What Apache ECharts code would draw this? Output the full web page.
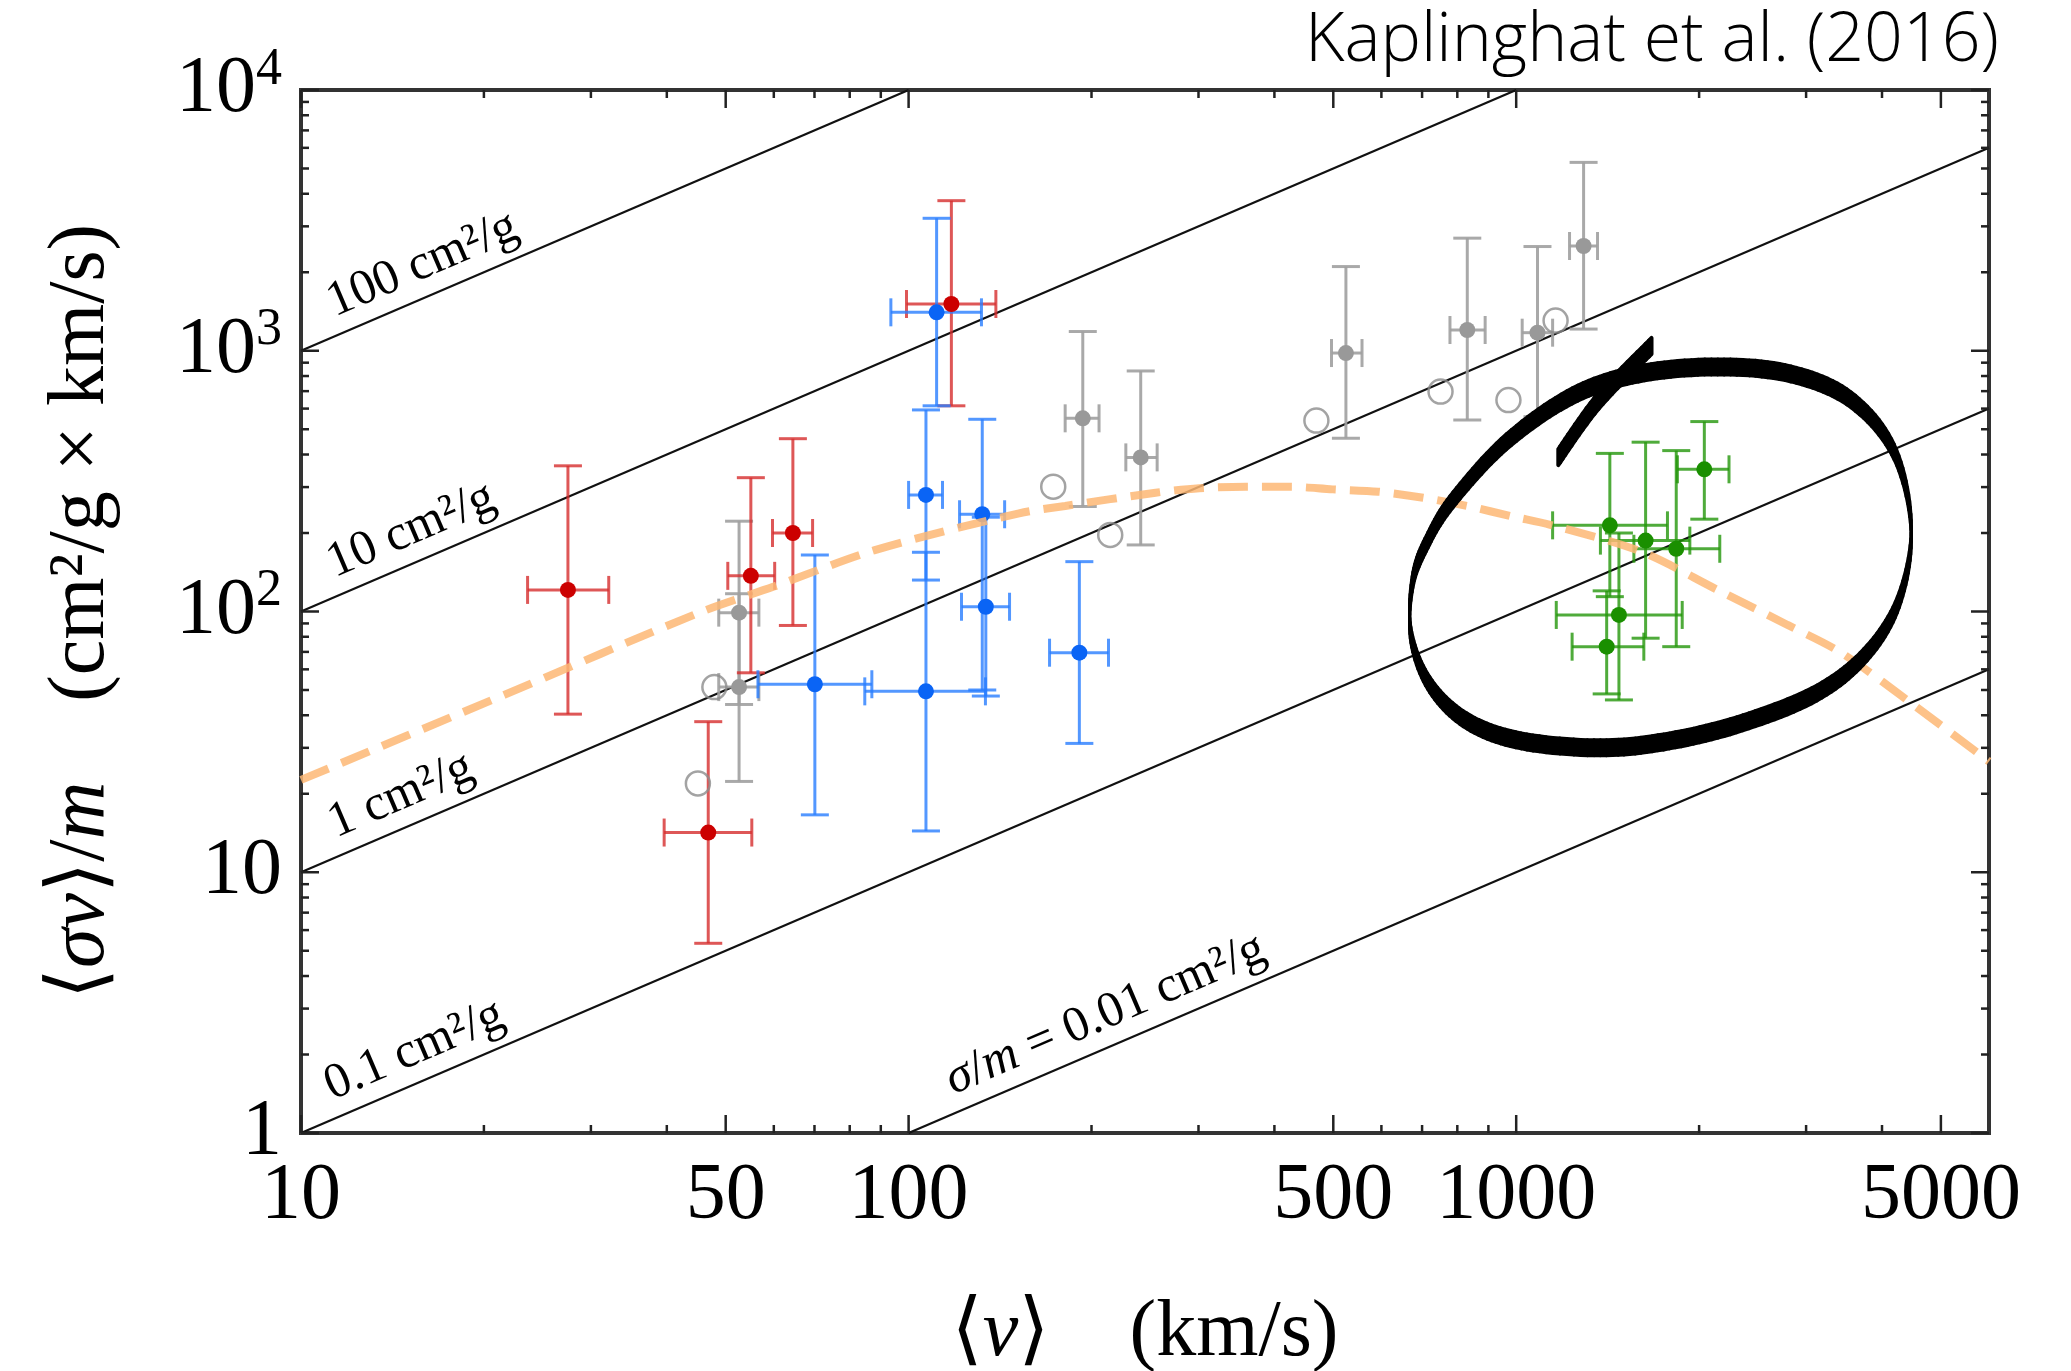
<!DOCTYPE html>
<html>
<head>
<meta charset="utf-8">
<title>Dark matter self-interaction: ⟨σv⟩/m versus ⟨v⟩</title>
<script src="https://cdn.jsdelivr.net/npm/echarts@6/dist/echarts.min.js"></script>
<style>
  html, body { margin: 0; padding: 0; background: #ffffff; }
  #chart { width: 2071px; height: 1371px; }
</style>
</head>
<body>
<div id="chart"></div>
<script>
// ---------- axis ranges ----------
const X_MIN = 10, X_MAX = 6000;
const Y_MIN = 1, Y_MAX = 10000;

// ---------- ticks ----------
const xTickLabels = [10, 50, 100, 500, 1000, 5000];
const xMinorTicks = [20, 30, 40, 60, 70, 80, 90, 200, 300, 400, 600, 700, 800, 900, 2000, 3000, 4000];
const yMajorTicks = [1, 10, 100, 1000, 10000];
const yMinorTicks = [2, 3, 4, 5, 6, 7, 8, 9, 20, 30, 40, 50, 60, 70, 80, 90,
  200, 300, 400, 500, 600, 700, 800, 900, 2000, 3000, 4000, 5000, 6000, 7000, 8000, 9000];

// ---------- lines of constant sigma/m ----------
const sigmaLabels = ['100 cm²/g', '10 cm²/g', '1 cm²/g', '0.1 cm²/g', '{i|σ}/{i|m} = 0.01 cm²/g'];
const sigmaLineFrom = [[10, 1000], [10, 100], [10, 10], [10, 1], [100, 1]];
const sigmaLineTo = [[100, 10000], [1000, 10000], [6000, 6000], [6000, 600], [6000, 60]];
const sigmaLabelAt = [[16.6, 1660], [15.9, 159], [15.3, 15.3], [16.1, 1.61], [221, 2.21]];

// ---------- dwarfs (red) ----------
const redV = [27.5, 46.8, 55, 64.5, 117.6];
const redY = [121, 14.2, 137, 200, 1511];
const redVLo = [23.6, 39.6, 50.4, 59.7, 99.2];
const redVHi = [32.1, 55.2, 60.2, 69.5, 139.2];
const redYLo = [40.4, 5.34, 58.2, 88.4, 615];
const redYHi = [362, 37.8, 326, 460, 3763];

// ---------- low surface brightness galaxies (blue) ----------
const blueV = [70.1, 106.8, 106.8, 111.2, 132.2, 134, 191];
const blueY = [52.6, 49.4, 280, 1404, 236, 104.3, 69.5];
const blueVLo = [56.5, 84.7, 100, 93.5, 121.3, 122.2, 170.6];
const blueVHi = [87, 133.8, 113.7, 131.8, 143.9, 146.6, 213.3];
const blueYLo = [16.6, 14.4, 132, 615, 50, 47.4, 31.2];
const blueYHi = [164.7, 168.7, 593, 3221, 546, 230, 155.3];

// ---------- gray measurements with error bars ----------
const grayV = [52.6, 52.6, 193.5, 241, 524.5, 830.8, 1084, 1291];
const grayY = [99, 51.3, 550.6, 390, 980, 1201, 1173, 2522];
const grayVLo = [48.7, 48.7, 181, 227.8, 496.6, 778, 1023, 1224];
const grayVHi = [56.7, 56.7, 205.8, 256.5, 557.5, 889, 1148, 1361];
const grayYLo = [44, 22.3, 252.8, 180, 461.8, 542.5, 558.6, 1211];
const grayYHi = [222, 117, 1185, 836.5, 2103, 2703, 2510, 5277];

// ---------- open circles ----------
const openV = [45, 47.9, 173, 214.7, 469, 750.7, 971, 1161];
const openY = [21.9, 51.3, 301, 196.6, 540, 697.6, 647, 1305];

// ---------- clusters (green) ----------
const greenV = [2040, 1426, 1633, 1834, 1476, 1409];
const greenY = [351, 214, 187, 174, 97, 73.3];
const greenVLo = [1842, 1148, 1376, 1562, 1164, 1236];
const greenVHi = [2240, 1774, 1931, 2163, 1876, 1622];
const greenYLo = [226, 114, 79, 73.3, 45.8, 48.3];
const greenYHi = [535, 404, 446, 414, 200, 120];

// ---------- model curve (dashed orange) ----------
const curveV = [10, 21.6, 45, 60, 88, 152, 181, 255, 301, 359, 424, 499, 593, 703, 829, 990, 1138, 1602, 2145, 2797, 3436, 4546, 6000];
const curveY = [22.6, 47.9, 98.5, 124.6, 172, 238, 254, 285.5, 297, 301, 301, 294, 288, 273, 254, 231, 215, 170, 121, 88.8, 69.2, 43.2, 26.6];

// ---------- hand-drawn closed loop around the clusters (clockwise from the top) ----------
const loopV = [2146, 2832, 3558, 4189, 4469, 4270, 3780, 3126, 2359, 1788, 1376, 1019,
  830, 721, 671, 676, 716, 787, 963, 1237, 1590];
const loopY = [867, 815, 648, 409, 209, 111, 69.3, 48.7, 37.4, 31.9, 30, 31.9,
  38, 52.3, 81.2, 132, 188, 268, 447, 671, 815];

// ---------- short stroke inside the loop ----------
const tailV = [1173, 1366, 1670];
const tailY = [391, 642, 1043];

const SERIF = "'Liberation Serif', 'Times New Roman', 'DejaVu Serif', serif";

function rows() {
  const cols = Array.prototype.slice.call(arguments);
  return cols[0].map((_, i) => cols.map(c => c[i]));
}

function errorBarRenderer(color) {
  return function (params, api) {
    const v = api.value(0), y = api.value(1);
    const c = api.coord([v, y]);
    const lo = api.coord([v, api.value(4)]);
    const hi = api.coord([v, api.value(5)]);
    const le = api.coord([api.value(2), y]);
    const ri = api.coord([api.value(3), y]);
    const st = { stroke: color, lineWidth: 3 };
    const cap = 14;
    const seg = (x1, y1, x2, y2) => ({ type: 'line', shape: { x1: x1, y1: y1, x2: x2, y2: y2 }, style: st });
    return {
      type: 'group',
      children: [
        seg(c[0], lo[1], c[0], hi[1]),
        seg(c[0] - cap, lo[1], c[0] + cap, lo[1]),
        seg(c[0] - cap, hi[1], c[0] + cap, hi[1]),
        seg(le[0], c[1], ri[0], c[1]),
        seg(le[0], c[1] - cap, le[0], c[1] + cap),
        seg(ri[0], c[1] - cap, ri[0], c[1] + cap)
      ]
    };
  };
}

function errorSeries(name, color, V, Y, VLo, VHi, YLo, YHi) {
  return {
    name: name + ' errors',
    type: 'custom',
    coordinateSystem: 'cartesian2d',
    renderItem: errorBarRenderer(color),
    data: rows(V, Y, VLo, VHi, YLo, YHi),
    encode: { x: 0, y: 1 },
    clip: false,
    silent: true,
    z: 3
  };
}

function markerSeries(name, color, V, Y) {
  return {
    name: name,
    type: 'scatter',
    data: rows(V, Y),
    symbol: 'circle',
    symbolSize: 16,
    itemStyle: { color: color, opacity: 1 },
    silent: true,
    z: 4
  };
}

// Catmull-Rom interpolation between pixel points p1 and p2
function catmull(p0, p1, p2, p3, t) {
  const t2 = t * t, t3 = t2 * t;
  const f = (a, b, c, d) => 0.5 * (2 * b + (-a + c) * t + (2 * a - 5 * b + 4 * c - d) * t2 + (-a + 3 * b - 3 * c + d) * t3);
  return [f(p0[0], p1[0], p2[0], p3[0]), f(p0[1], p1[1], p2[1], p3[1])];
}

// brush stroke with a vertical nib: thick where the pen moves sideways, thin where it moves up/down
function brushRenderer(V, Y, closed, nib, minWidth) {
  return function (params, api) {
    const n = V.length;
    const i = params.dataIndex;
    if (!closed && i >= n - 1) return null;
    const idx = k => closed ? ((k % n) + n) % n : Math.max(0, Math.min(n - 1, k));
    const P = k => api.coord([V[idx(k)], Y[idx(k)]]);
    const p0 = P(i - 1), p1 = P(i), p2 = P(i + 1), p3 = P(i + 2);
    const steps = 12, h = nib / 2;
    const children = [];
    let prev = catmull(p0, p1, p2, p3, 0);
    for (let k = 1; k <= steps; k++) {
      const cur = catmull(p0, p1, p2, p3, k / steps);
      children.push({
        type: 'polygon',
        shape: { points: [[prev[0], prev[1] - h], [cur[0], cur[1] - h], [cur[0], cur[1] + h], [prev[0], prev[1] + h]] },
        style: { fill: '#000', stroke: '#000', lineWidth: minWidth, lineJoin: 'round' }
      });
      prev = cur;
    }
    return { type: 'group', children: children };
  };
}

const lineSeries = sigmaLineFrom.map((from, i) => ({
  name: 'sigma ' + i,
  type: 'line',
  data: [from, sigmaLineTo[i]],
  showSymbol: false,
  symbol: 'none',
  lineStyle: { color: '#111', width: 2.2 },
  silent: true,
  z: 2
}));

const option = {
  animation: false,
  backgroundColor: '#ffffff',
  title: {
    text: 'Kaplinghat et al. (2016)',
    right: 67,
    top: 3,
    textStyle: { fontFamily: "'Open Sans', sans-serif", fontWeight: 300, fontSize: 68, color: '#000' }
  },
  grid: {
    left: 301, right: 82, top: 90, bottom: 238,
    show: true, borderColor: '#333', borderWidth: 4,
    backgroundColor: 'rgba(0,0,0,0)',
    containLabel: false,
    outerBoundsMode: 'none'
  },
  xAxis: {
    type: 'log', logBase: 10, min: X_MIN, max: X_MAX,
    axisLine: { show: false }, axisTick: { show: false }, splitLine: { show: false },
    axisLabel: { show: false },
    name: '{t|⟨}{i|v}{t|⟩    (km/s)}',
    nameLocation: 'middle',
    nameGap: 161,
    nameMoveOverlap: false,
    nameTextStyle: {
      rich: {
        t: { fontFamily: SERIF, fontSize: 80, lineHeight: 80, color: '#000' },
        i: { fontFamily: SERIF, fontSize: 80, lineHeight: 80, fontStyle: 'italic', color: '#000' }
      }
    }
  },
  yAxis: {
    type: 'log', logBase: 10, min: Y_MIN, max: Y_MAX,
    axisLine: { show: false }, axisTick: { show: false }, splitLine: { show: false },
    axisLabel: {
      margin: 19,
      formatter: function (v) {
        const e = Math.round(Math.log10(v));
        if (e === 0) return '{n|1}';
        if (e === 1) return '{n|10}';
        return '{n|10}{s|' + e + '}';
      },
      rich: {
        n: { fontFamily: SERIF, fontSize: 80, color: '#000' },
        s: { fontFamily: SERIF, fontSize: 52, color: '#000', padding: [0, 0, 40, 0] }
      }
    },
    name: '{t|⟨}{i|σv}{t|⟩/}{i|m}{t|    (cm²/g × km/s)}',
    nameLocation: 'middle',
    nameRotate: 90,
    nameGap: 179,
    nameMoveOverlap: false,
    nameTextStyle: {
      rich: {
        t: { fontFamily: SERIF, fontSize: 80, lineHeight: 80, color: '#000' },
        i: { fontFamily: SERIF, fontSize: 80, lineHeight: 80, fontStyle: 'italic', color: '#000' }
      }
    }
  },
  series: [].concat(lineSeries, [
    errorSeries('gray', 'rgba(160,160,160,0.9)', grayV, grayY, grayVLo, grayVHi, grayYLo, grayYHi),
    errorSeries('red', 'rgba(214,45,45,0.8)', redV, redY, redVLo, redVHi, redYLo, redYHi),
    errorSeries('blue', 'rgba(40,125,255,0.8)', blueV, blueY, blueVLo, blueVHi, blueYLo, blueYHi),
    errorSeries('green', 'rgba(35,150,10,0.8)', greenV, greenY, greenVLo, greenVHi, greenYLo, greenYHi),
    markerSeries('gray', '#999999', grayV, grayY),
    markerSeries('red', '#CC0000', redV, redY),
    markerSeries('blue', '#0A64F5', blueV, blueY),
    markerSeries('green', '#1A8F00', greenV, greenY),
    {
      name: 'open',
      type: 'scatter',
      data: rows(openV, openY),
      symbol: 'circle',
      symbolSize: 24,
      itemStyle: { color: 'rgba(0,0,0,0)', borderColor: '#8c8c8c', borderWidth: 2.5 },
      silent: true,
      z: 4
    },
    {
      name: 'model',
      type: 'line',
      data: rows(curveV, curveY),
      smooth: 0.3,
      showSymbol: false,
      symbol: 'none',
      lineStyle: { color: '#FDB774', width: 8, type: [30, 14], cap: 'butt', opacity: 0.85 },
      silent: true,
      z: 5
    },
    {
      name: 'loop',
      type: 'custom',
      coordinateSystem: 'cartesian2d',
      renderItem: brushRenderer(loopV, loopY, true, 16, 3),
      data: rows(loopV, loopY),
      clip: false,
      silent: true,
      z: 6
    },
    {
      name: 'tail',
      type: 'custom',
      coordinateSystem: 'cartesian2d',
      renderItem: brushRenderer(tailV, tailY, false, 16, 4),
      data: rows(tailV, tailY),
      clip: false,
      silent: true,
      z: 6
    },
    {
      name: 'sigma labels',
      type: 'custom',
      coordinateSystem: 'cartesian2d',
      data: sigmaLabelAt,
      clip: false,
      silent: true,
      z: 6,
      renderItem: function (params, api) {
        const v = api.value(0), y = api.value(1);
        const p = api.coord([v, y]);
        const q = api.coord([v * 10, y * 10]);
        const ang = Math.atan2(p[1] - q[1], q[0] - p[0]);
        const d = 31;
        return {
          type: 'text',
          x: p[0] - Math.sin(ang) * d,
          y: p[1] - Math.cos(ang) * d,
          rotation: ang,
          style: {
            text: sigmaLabels[params.dataIndex],
            fontFamily: SERIF, fontSize: 50, fill: '#000',
            align: 'center', verticalAlign: 'middle',
            rich: { i: { fontFamily: SERIF, fontSize: 50, fontStyle: 'italic', fill: '#000' } }
          }
        };
      }
    },
    {
      name: 'ticks',
      type: 'custom',
      coordinateSystem: 'cartesian2d',
      data: [].concat(
        xTickLabels.map(v => [v, Y_MIN, 0]),
        xMinorTicks.map(v => [v, Y_MIN, 1]),
        yMajorTicks.map(v => [X_MIN, v, 2]),
        yMinorTicks.map(v => [X_MIN, v, 3])
      ),
      clip: false,
      silent: true,
      z: 7,
      renderItem: function (params, api) {
        const kind = api.value(2);
        const st = { stroke: '#222', lineWidth: 2.5 };
        const ln = (x1, y1, x2, y2) => ({ type: 'line', shape: { x1: x1, y1: y1, x2: x2, y2: y2 }, style: st });
        if (kind < 2) {
          const len = kind === 0 ? 18 : 8;
          const b = api.coord([api.value(0), Y_MIN]);
          const t = api.coord([api.value(0), Y_MAX]);
          return { type: 'group', children: [ln(b[0], b[1], b[0], b[1] - len), ln(t[0], t[1], t[0], t[1] + len)] };
        }
        const len = kind === 2 ? 18 : 8;
        const l = api.coord([X_MIN, api.value(1)]);
        const r = api.coord([X_MAX, api.value(1)]);
        return { type: 'group', children: [ln(l[0], l[1], l[0] + len, l[1]), ln(r[0], r[1], r[0] - len, r[1])] };
      }
    },
    {
      name: 'x labels',
      type: 'custom',
      coordinateSystem: 'cartesian2d',
      data: xTickLabels.map(v => [v, Y_MIN]),
      clip: false,
      silent: true,
      z: 7,
      renderItem: function (params, api) {
        const p = api.coord([api.value(0), Y_MIN]);
        return {
          type: 'text',
          x: p[0], y: p[1] + 64,
          style: {
            text: String(xTickLabels[params.dataIndex]),
            fontFamily: SERIF, fontSize: 80, fill: '#000',
            align: 'center', verticalAlign: 'middle'
          }
        };
      }
    }
  ])
};

const chart = echarts.init(document.getElementById('chart'), null, { renderer: 'canvas' });
chart.setOption(option);
</script>
</body>
</html>
